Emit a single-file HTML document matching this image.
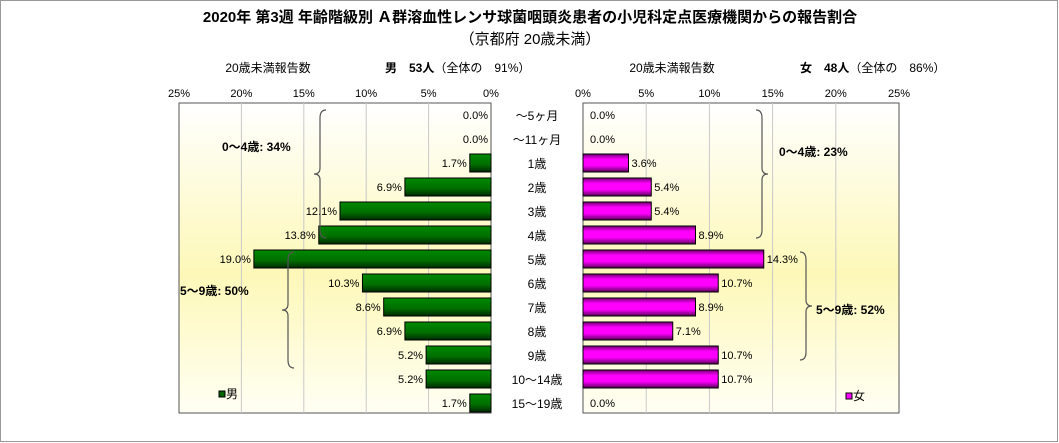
<!DOCTYPE html>
<html><head><meta charset="utf-8"><style>
body{margin:0;background:#fff}
svg{display:block;font-family:"Liberation Sans","Noto Sans CJK JP",sans-serif}
</style></head><body>
<svg id="c" width="1059" height="443">
<defs>
<linearGradient id="bg" x1="0" y1="0" x2="0" y2="1">
<stop offset="0" stop-color="#ffffff"/><stop offset="0.55" stop-color="#fdf8b8"/><stop offset="1" stop-color="#fffff4"/></linearGradient>
<linearGradient id="gm" x1="0" y1="0" x2="0" y2="1">
<stop offset="0" stop-color="#008a00"/><stop offset="0.6" stop-color="#006c00"/><stop offset="1" stop-color="#002800"/></linearGradient>
<linearGradient id="gf" x1="0" y1="0" x2="0" y2="1">
<stop offset="0" stop-color="#700070"/><stop offset="0.3" stop-color="#ff00ff"/><stop offset="0.65" stop-color="#ff00ff"/><stop offset="1" stop-color="#500050"/></linearGradient>
</defs>
<rect x="0.5" y="0.5" width="1057" height="441" fill="none" stroke="#999"/>
<text x="530" y="22" text-anchor="middle" font-size="15" font-weight="bold">2020年 第3週 年齢階級別 Ａ群溶血性レンサ球菌咽頭炎患者の小児科定点医療機関からの報告割合</text>
<text x="530" y="44" text-anchor="middle" font-size="15">（京都府 20歳未満）</text>
<text x="268" y="72" text-anchor="middle" font-size="12">20歳未満報告数</text>
<text x="385" y="72" font-size="12"><tspan font-weight="bold">男　53人</tspan>（全体の　91%）</text>
<text x="672" y="72" text-anchor="middle" font-size="12">20歳未満報告数</text>
<text x="800" y="72" font-size="12"><tspan font-weight="bold">女　48人</tspan>（全体の　86%）</text>
<g id="g"></g>
</svg>
<script>
const categories=["～5ヶ月","～11ヶ月","1歳","2歳","3歳","4歳","5歳","6歳","7歳","8歳","9歳","10～14歳","15～19歳"];
const maleValues=[0.0,0.0,1.7,6.9,12.1,13.8,19.0,10.3,8.6,6.9,5.2,5.2,1.7];
const femaleValues=[0.0,0.0,3.6,5.4,5.4,8.9,14.3,10.7,8.9,7.1,10.7,10.7,0.0];
const tickValues=[0,5,10,15,20,25];
const ns="http://www.w3.org/2000/svg";
const g=document.getElementById('g');
const L0=491,R0=583,PXL=12.48,PXR=12.64,TOP=103,BOT=413,ROW0=115,PITCH=24,BH=18;
const xl=v=>L0-v*PXL, xr=v=>R0+v*PXR, yc=i=>ROW0+i*PITCH;
function mk(t,a,txt){const e=document.createElementNS(ns,t);for(const k in a)e.setAttribute(k,a[k]);if(txt!==undefined)e.textContent=txt;g.appendChild(e);return e;}
let e=mk('rect',{x:xl(25),y:TOP,width:L0-xl(25),height:BOT-TOP,fill:'url(#bg)',stroke:'#555'});

e=mk('rect',{x:R0,y:TOP,width:xr(25)-R0,height:BOT-TOP,fill:'url(#bg)',stroke:'#555'});

tickValues.forEach(t=>{
 if(t>0&&t<25){
  e=mk('line',{x1:xl(t),x2:xl(t),y1:TOP,y2:BOT,stroke:'#c8c8c8'});
  
  e=mk('line',{x1:xr(t),x2:xr(t),y1:TOP,y2:BOT,stroke:'#c8c8c8'});
  
 }
 e=mk('text',{x:xl(t),y:97,'text-anchor':'middle','font-size':11},t+'%');
 
 e=mk('text',{x:xr(t),y:97,'text-anchor':'middle','font-size':11},t+'%');
 
});
categories.forEach((c,i)=>{
 const y=yc(i);
 e=mk('text',{x:537,y:y+5,'text-anchor':'middle','font-size':12},c);
 
 const m=maleValues[i];
 if(m>0){e=mk('rect',{x:xl(m),y:y-BH/2,width:m*PXL,height:BH,fill:'url(#gm)',stroke:'#000'});
  }
 e=mk('text',{x:xl(m)-3,y:y+4,'text-anchor':'end','font-size':11},m.toFixed(1)+'%');
 
 const f=femaleValues[i];
 if(f>0){e=mk('rect',{x:R0,y:y-BH/2,width:f*PXR,height:BH,fill:'url(#gf)',stroke:'#000'});
  }
 e=mk('text',{x:xr(f)+(f>0?3:7),y:y+4,'font-size':11},f.toFixed(1)+'%');
 
});
function brace(x,y1,y2,dir,name){
 const m=(y1+y2)/2,d=6*dir;
 e=mk('path',{d:`M${x+d} ${y1} Q${x} ${y1} ${x} ${y1+8} L${x} ${m-6} Q${x} ${m} ${x-d} ${m} Q${x} ${m} ${x} ${m+6} L${x} ${y2-8} Q${x} ${y2} ${x+d} ${y2}`,fill:'none',stroke:'#555','stroke-width':1.2});
 
}
brace(320,110,238,1,'male-0-4-brace');
brace(288,252,368,1,'male-5-9-brace');
brace(762,110,238,-1,'female-0-4-brace');
brace(806,252,360,-1,'female-5-9-brace');
e=mk('text',{x:222,y:151,'font-size':12,'font-weight':'bold'},'0～4歳: 34%');

e=mk('text',{x:180,y:295,'font-size':12,'font-weight':'bold'},'5～9歳: 50%');

e=mk('text',{x:779,y:156,'font-size':12,'font-weight':'bold'},'0～4歳: 23%');

e=mk('text',{x:816,y:314,'font-size':12,'font-weight':'bold'},'5～9歳: 52%');

e=mk('rect',{x:219,y:391,width:6,height:6,fill:'#006400',stroke:'#000'});

e=mk('text',{x:226,y:398,'font-size':12},'男');

e=mk('rect',{x:846,y:393,width:6,height:6,fill:'#ff00ff',stroke:'#000'});

e=mk('text',{x:853,y:400,'font-size':12},'女');

</script>
</body></html>
